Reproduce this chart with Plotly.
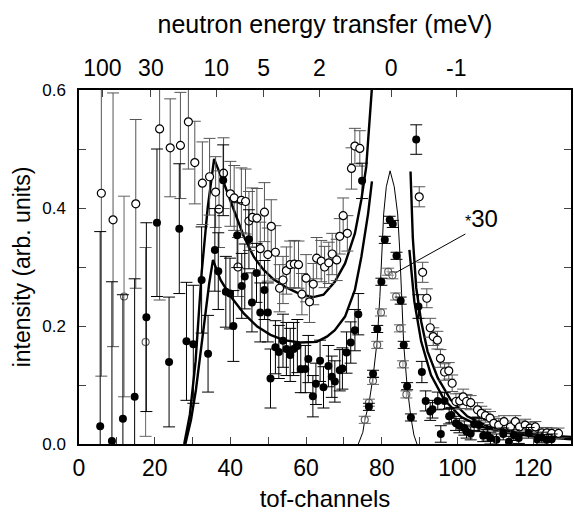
import plotly.graph_objects as go

# ---------------- data ----------------
# open circles (left part)
open_x = [5.9, 9.0, 15.0, 21.3, 24.1, 26.8, 28.9, 30.6, 32.6, 34.5, 36.1, 37.0, 38.2, 40.0, 41.0,
          42.0, 42.9, 44.0, 44.9, 45.8, 47.0, 47.9, 49.0, 49.9, 50.8, 51.9, 53.0, 53.9, 54.8, 55.8,
          56.9, 58.0, 58.9, 60.0, 60.9, 61.9, 62.8, 64.0, 64.9, 66.0, 66.9, 68.1, 68.9, 69.8, 70.9,
          72.0, 72.9, 74.2]
open_y = [0.425, 0.380, 0.407, 0.534, 0.502, 0.506, 0.546, 0.477, 0.442, 0.453, 0.427, 0.398, 0.459, 0.424, 0.417,
          0.300, 0.413, 0.411, 0.378, 0.384, 0.383, 0.331, 0.393, 0.321, 0.369, 0.325, 0.264, 0.278, 0.294, 0.304,
          0.305, 0.304, 0.254, 0.281, 0.241, 0.271, 0.315, 0.310, 0.300, 0.307, 0.322, 0.312, 0.352, 0.387, 0.357,
          0.467, 0.505, 0.501]
open_e = [0.31, 0.215, 0.143, 0.29, 0.083, 0.09, 0.08, 0.07, 0.07, 0.065, 0.06, 0.065, 0.06, 0.055, 0.055,
          0.05, 0.055, 0.055, 0.05, 0.05, 0.05, 0.045, 0.05, 0.045, 0.045, 0.045, 0.04, 0.04, 0.04, 0.04,
          0.04, 0.04, 0.035, 0.04, 0.035, 0.035, 0.035, 0.035, 0.035, 0.035, 0.035, 0.035, 0.03, 0.03, 0.03,
          0.035, 0.03, 0.03]
# open circles (right of the elastic line)
open2_x = [89.9, 90.8, 91.9, 92.8, 93.6, 94.7, 95.5, 96.6, 97.7, 98.6, 99.6, 100.6, 101.5, 102.4, 103.5,
           105.3, 106.3, 107.4, 108.6, 109.6, 110.9, 112.3, 114.0, 115.3, 116.4, 117.9, 119.2, 120.6, 122.3,
           123.6, 124.9, 126.7]
open2_y = [0.419, 0.291, 0.247, 0.197, 0.182, 0.176, 0.145, 0.122, 0.124, 0.103, 0.072, 0.073, 0.080, 0.072, 0.070,
           0.058, 0.052, 0.048, 0.044, 0.035, 0.032, 0.038, 0.029, 0.038, 0.029, 0.032, 0.027, 0.029, 0.019,
           0.019, 0.018, 0.018]
open2_e = [0.017, 0.017, 0.016, 0.016, 0.015, 0.015, 0.015, 0.014, 0.014, 0.014, 0.013, 0.013, 0.013, 0.012, 0.012,
           0.012, 0.012, 0.011, 0.011, 0.011, 0.011, 0.010, 0.010, 0.010, 0.010, 0.010, 0.010, 0.009, 0.009,
           0.009, 0.009, 0.009]

# filled circles (left part)
fill_x = [5.6, 8.7, 11.6, 14.7, 17.8, 20.6, 23.8, 26.5, 28.4, 30.2, 32.4, 34.1, 35.9, 36.8, 38.1,
          38.8, 39.9, 40.8, 41.8, 43.0, 43.8, 44.9, 45.7, 46.9, 47.9, 49.0, 49.9, 50.6, 51.9, 52.8,
          53.9, 54.8, 55.8, 56.7, 57.7, 58.6, 59.8, 60.6, 61.8, 62.6, 63.7, 64.6, 65.9, 66.8, 67.6,
          68.9, 69.6, 70.7, 71.8, 72.9, 73.8, 74.8]
fill_y = [0.030, 0.005, 0.043, 0.080, 0.215, 0.375, 0.139, 0.365, 0.174, 0.169, 0.278, 0.153, 0.329, 0.293, 0.447,
          0.258, 0.255, 0.200, 0.354, 0.268, 0.284, 0.347, 0.240, 0.290, 0.223, 0.261, 0.223, 0.111, 0.164, 0.156,
          0.175, 0.161, 0.151, 0.161, 0.166, 0.127, 0.127, 0.144, 0.081, 0.102, 0.141, 0.096, 0.132, 0.114, 0.106,
          0.125, 0.128, 0.155, 0.172, 0.193, 0.220, 0.446]
fill_e = [0.33, 0.27, 0.21, 0.20, 0.16, 0.125, 0.11, 0.11, 0.10, 0.10, 0.09, 0.065, 0.07, 0.065, 0.06,
          0.06, 0.06, 0.06, 0.055, 0.055, 0.055, 0.05, 0.05, 0.05, 0.05, 0.05, 0.05, 0.05, 0.045, 0.045,
          0.045, 0.045, 0.045, 0.045, 0.045, 0.04, 0.04, 0.04, 0.035, 0.035, 0.035, 0.035, 0.035, 0.035, 0.035,
          0.035, 0.035, 0.035, 0.035, 0.035, 0.035, 0.03]
# filled circles on the elastic line
fill_el_x = [76.6, 77.7, 78.8, 79.9, 80.8, 82.1, 82.9, 83.9, 85.0, 85.8, 86.7, 87.7]
fill_el_y = [0.063, 0.119, 0.195, 0.275, 0.346, 0.380, 0.373, 0.319, 0.243, 0.168, 0.098, 0.045]
fill_el_e = [0.006] * 12
# filled circles right of the elastic line
fill2_x = [89.1, 89.7, 90.6, 91.6, 92.8, 93.4, 94.8, 95.6, 96.6, 97.8, 98.4, 99.6, 100.5, 101.8, 102.4,
           103.5, 104.4, 105.7, 106.8, 107.9, 108.7, 110.3, 112.1, 113.6, 114.9, 116.2, 118.8, 121.0, 122.3,
           123.6, 124.9]
fill2_y = [0.516, 0.233, 0.122, 0.073, 0.055, 0.059, 0.073, 0.017, 0.073, 0.047, 0.049, 0.035, 0.031, 0.027, 0.021,
           0.018, 0.034, 0.032, 0.014, 0.015, 0.010, 0.007, 0.017, 0.004, 0.015, 0.010, 0.019, 0.008, 0.011,
           0.007, 0.008]
fill2_e = [0.025, 0.02, 0.018, 0.017, 0.015, 0.015, 0.015, 0.014, 0.014, 0.013, 0.013, 0.012, 0.012, 0.012, 0.011,
           0.011, 0.011, 0.011, 0.010, 0.010, 0.010, 0.010, 0.010, 0.009, 0.009, 0.009, 0.009, 0.009, 0.009,
           0.009, 0.009]

# grey small circles (x30 data)
hatch_x = [11.9, 17.6, 75.5, 76.6, 77.7, 78.8, 79.8, 81.7, 82.8, 83.8, 84.8, 85.6, 86.5]
hatch_y = [0.250, 0.173, 0.041, 0.070, 0.107, 0.168, 0.223, 0.292, 0.286, 0.250, 0.196, 0.135, 0.084]
hatch_e = [0.17, 0.16, 0.006, 0.006, 0.006, 0.006, 0.006, 0.006, 0.006, 0.006, 0.006, 0.006, 0.006]

# model curves
upL_x = [27.8, 29.3, 30.8, 32.4, 34.0, 35.7, 37.0, 38.3, 40.9, 43.6, 46.2, 48.8, 51.4, 54.9, 58.4, 61.9,
         64.6, 67.6, 70.3, 72.9, 74.6, 75.9, 76.4, 77.3, 77.7]
upL_y = [0.0, 0.05, 0.14, 0.29, 0.40, 0.483, 0.462, 0.442, 0.397, 0.351, 0.317, 0.295, 0.279, 0.265, 0.254, 0.249,
         0.253, 0.275, 0.306, 0.357, 0.414, 0.47, 0.515, 0.583, 0.63]
loL_x = [28.1, 29.6, 30.9, 32.6, 34.4, 35.4, 37.4, 40.1, 43.6, 47.1, 50.6, 54.1, 58.4, 62.8, 65.5, 67.6,
         70.3, 72.9, 74.6, 76.4, 77.4]
loL_y = [0.0, 0.041, 0.092, 0.179, 0.272, 0.312, 0.278, 0.250, 0.221, 0.199, 0.185, 0.176, 0.172, 0.173, 0.182, 0.193,
         0.216, 0.261, 0.317, 0.391, 0.445]
upR_x = [87.6, 88.2, 89.1, 90.4, 92.1, 94.8, 98.2, 102.6, 108.0, 115.0, 122.0, 130.0]
upR_y = [0.462, 0.350, 0.265, 0.208, 0.157, 0.112, 0.075, 0.047, 0.030, 0.020, 0.015, 0.012]
loR_x = [87.3, 88.6, 90.4, 93.0, 96.5, 100.9, 106.0, 113.0, 120.0, 130.0]
loR_y = [0.329, 0.242, 0.174, 0.117, 0.075, 0.046, 0.030, 0.019, 0.013, 0.008]
el_x = [73.8, 75.0, 75.5, 76.6, 77.7, 78.8, 79.5, 80.0, 80.5, 81.2, 82.2, 83.3, 84.2, 84.7, 85.1, 85.8,
        86.7, 87.7, 88.5, 89.3]
el_y = [0.0, 0.02, 0.04, 0.068, 0.114, 0.176, 0.25, 0.33, 0.39, 0.436, 0.463, 0.436, 0.39, 0.334, 0.27, 0.168,
        0.098, 0.045, 0.015, 0.0]

# top axis: energy transfer labels at tof positions
top_pos = [6.2, 19.0, 36.3, 48.8, 63.5, 82.5, 99.7]
top_txt = ["100", "30", "10", "5", "2", "0", "-1"]

# "*30" pointer
ptr_x = [102.1, 83.6]
ptr_y = [0.356, 0.290]
lab_pos = (106.3, 0.383)

FONT = "Liberation Sans, Arial, Helvetica, sans-serif"

fig = go.Figure()

# curves
for cx, cy, w in [(upL_x, upL_y, 2.4), (loL_x, loL_y, 2.4), (upR_x, upR_y, 2.4), (loR_x, loR_y, 2.4),
                  (el_x, el_y, 1.0)]:
    fig.add_trace(go.Scatter(x=cx, y=cy, mode="lines", line=dict(color="black", width=w),
                             hoverinfo="skip", showlegend=False))

# pointer line
fig.add_trace(go.Scatter(x=ptr_x, y=ptr_y, mode="lines", line=dict(color="black", width=1),
                         showlegend=False, hoverinfo="skip"))

# open circles
fig.add_trace(go.Scatter(
    x=open_x + open2_x, y=open_y + open2_y, mode="markers",
    error_y=dict(type="data", array=open_e + open2_e, color="#555555", thickness=1, width=6),
    marker=dict(symbol="circle", size=8, color="white", line=dict(color="black", width=1.2)),
    showlegend=False))

# grey small circles
fig.add_trace(go.Scatter(
    x=hatch_x, y=hatch_y, mode="markers",
    error_y=dict(type="data", array=hatch_e, color="#666666", thickness=1, width=6),
    marker=dict(symbol="circle", size=7, color="rgba(255,255,255,0.3)", line=dict(color="#555555", width=1.1)),
    showlegend=False))

# filled circles
fig.add_trace(go.Scatter(
    x=fill_x + fill_el_x + fill2_x, y=fill_y + fill_el_y + fill2_y, mode="markers",
    error_y=dict(type="data", array=fill_e + fill_el_e + fill2_e, color="black", thickness=1, width=6),
    marker=dict(symbol="circle", size=8, color="black"),
    showlegend=False))

# invisible trace for the top axis
fig.add_trace(go.Scatter(x=[0, 130], y=[0, 0], xaxis="x2", mode="markers",
                         marker=dict(opacity=0), hoverinfo="skip", showlegend=False))

fig.add_annotation(x=lab_pos[0], y=lab_pos[1], xref="x", yref="y", showarrow=False,
                   text="<span style='font-size:16px'>*</span>30",
                   font=dict(family=FONT, size=24, color="black"))

fig.update_layout(
    width=574, height=512,
    margin=dict(l=79, r=1, t=90, b=68),
    paper_bgcolor="white", plot_bgcolor="white",
    font=dict(family=FONT, color="black"),
    xaxis=dict(range=[0, 130], dtick=20, tick0=0, ticks="inside", ticklen=7, tickwidth=1.3,
               minor=dict(dtick=10, ticks="inside", ticklen=7, tickwidth=1.3),
               showline=True, linecolor="black", linewidth=1.5, mirror=True,
               showgrid=False, zeroline=False,
               tickfont=dict(size=23), ticklabelstandoff=3,
               title=dict(text="tof-channels", font=dict(size=24), standoff=11)),
    xaxis2=dict(range=[0, 130], overlaying="x", side="top", tickmode="array",
                tickvals=top_pos, ticktext=top_txt, ticks="inside", ticklen=7, tickwidth=1.3,
                showline=False, showgrid=False, zeroline=False,
                tickfont=dict(size=23), ticklabelstandoff=8,
                title=dict(text="neutron energy transfer (meV)", font=dict(size=25), standoff=14)),
    yaxis=dict(range=[0, 0.6], dtick=0.2, tick0=0, tickformat=".1f", ticks="inside", ticklen=7, tickwidth=1.3,
               minor=dict(dtick=0.1, ticks="inside", ticklen=6, tickwidth=1.3),
               showline=True, linecolor="black", linewidth=1.5, mirror="allticks",
               showgrid=False, zeroline=False,
               tickfont=dict(size=17), ticklabelstandoff=8,
               title=dict(text="intensity (arb. units)", font=dict(size=23), standoff=5)),
)

fig.write_html("out.html")
